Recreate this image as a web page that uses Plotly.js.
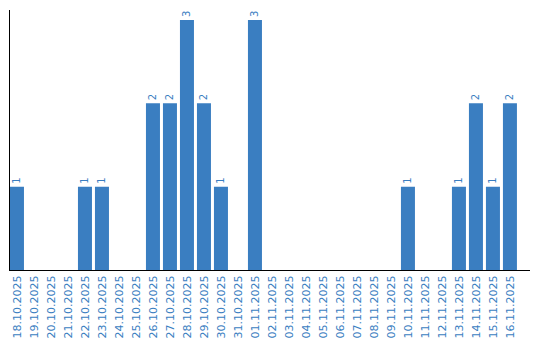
<!DOCTYPE html>
<html>
<head>
<meta charset="utf-8">
<script src="https://cdn.plot.ly/plotly-3.0.1.min.js"></script>
<style>html,body{margin:0;padding:0;background:#fff;}#chart{width:540px;height:340px;}</style>
</head>
<body>
<div id="chart"></div>
<script>
var dates = ["18.10.2025","19.10.2025","20.10.2025","21.10.2025","22.10.2025","23.10.2025","24.10.2025","25.10.2025","26.10.2025","27.10.2025","28.10.2025","29.10.2025","30.10.2025","31.10.2025","01.11.2025","02.11.2025","03.11.2025","04.11.2025","05.11.2025","06.11.2025","07.11.2025","08.11.2025","09.11.2025","10.11.2025","11.11.2025","12.11.2025","13.11.2025","14.11.2025","15.11.2025","16.11.2025"];
var counts = [1,0,0,0,1,1,0,0,2,2,3,2,1,0,3,0,0,0,0,0,0,0,0,1,0,0,1,2,1,2];
var labels = counts.map(function(v){ return v > 0 ? String(v) : ""; });
var blue = "#3a7ec1";
Plotly.newPlot("chart", [{
  type: "bar",
  x: dates,
  y: counts,
  text: labels,
  textposition: "outside",
  textangle: -90,
  cliponaxis: false,
  textfont: {family: "DejaVu Sans", size: 10, color: blue},
  marker: {color: blue},
  hoverinfo: "none"
}], {
  width: 540, height: 340,
  margin: {l: 10, r: 10, t: 10, b: 70, pad: 0},
  paper_bgcolor: "#fff", plot_bgcolor: "#fff",
  bargap: 0.176,
  showlegend: false,
  font: {family: "DejaVu Sans", size: 11, color: blue},
  xaxis: {
    type: "category",
    range: [-0.41, 30.18],
    tickangle: -90,
    showline: true, linecolor: "#000", linewidth: 1,
    showgrid: false, zeroline: false, ticks: "",
    tickfont: {family: "DejaVu Sans", size: 11, color: blue}
  },
  yaxis: {
    range: [0, 3.12],
    showline: true, linecolor: "#000", linewidth: 1,
    showgrid: false, zeroline: false, ticks: "",
    showticklabels: false
  }
}, {staticPlot: true, displayModeBar: false});
</script>
</body>
</html>
